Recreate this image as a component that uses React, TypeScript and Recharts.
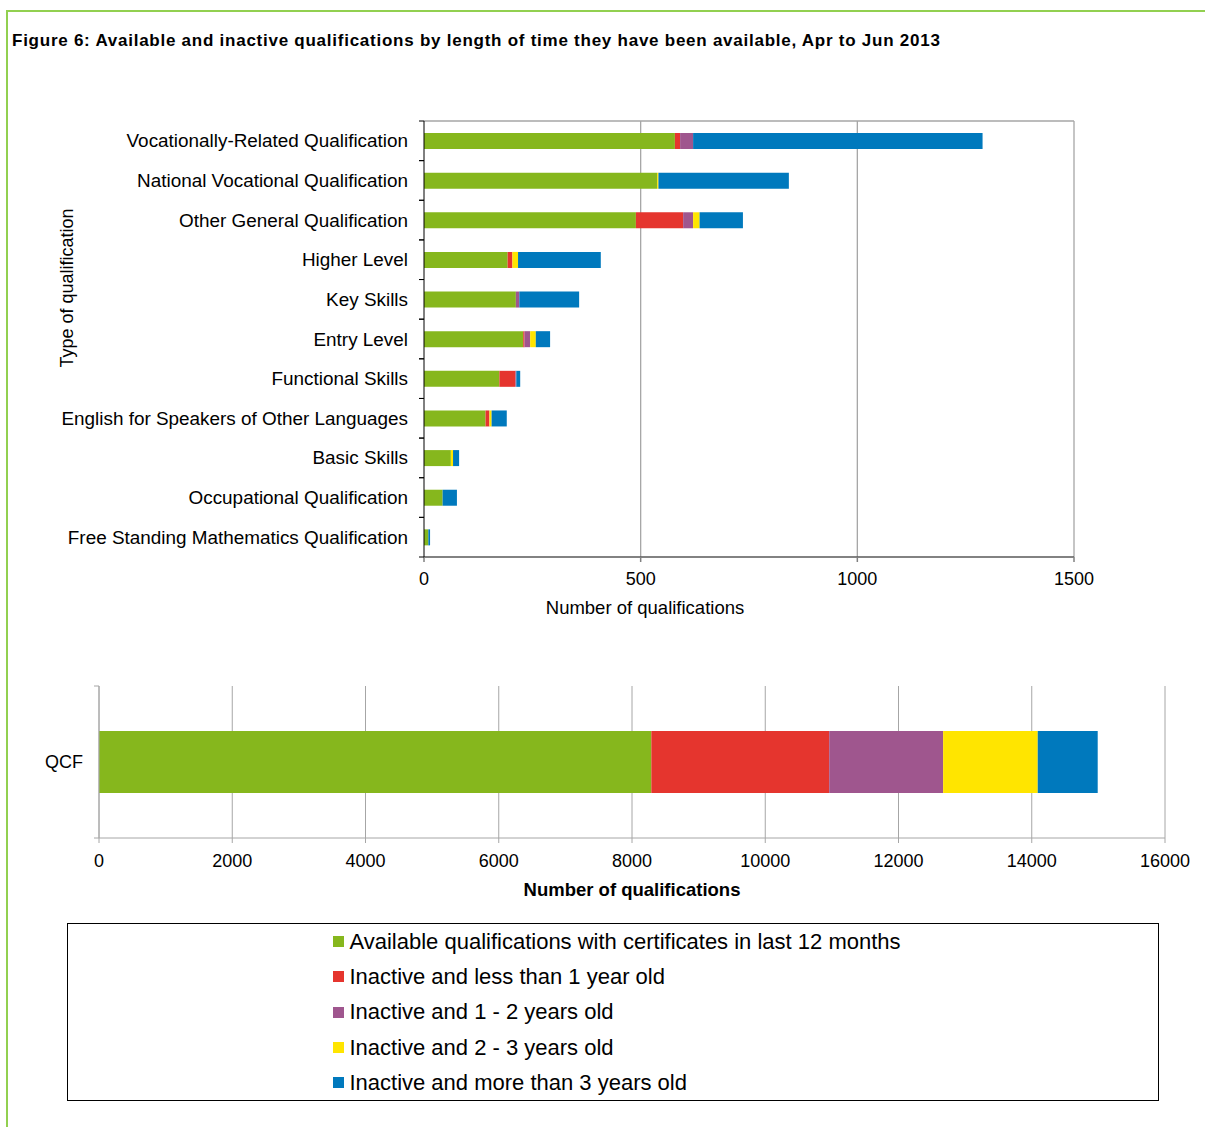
import React from "react";
import { Bar, BarChart, CartesianGrid, Label, Legend, XAxis, YAxis } from "recharts";

const FONT = '"Liberation Sans", Arial, sans-serif';

const green = "#86b71d";
const red = "#e5352e";
const purple = "#9f568e";
const yellow = "#ffe500";
const blue = "#0079bd";

const seriesNames = [
  "Available qualifications with certificates in last 12 months",
  "Inactive and less than 1 year old",
  "Inactive and 1 - 2 years old",
  "Inactive and 2 - 3 years old",
  "Inactive and more than 3 years old",
];
const seriesColors = [green, red, purple, yellow, blue];
const seriesKeys = ["available", "lessThan1", "oneToTwo", "twoToThree", "moreThan3"];

const categories = [
  "Vocationally-Related Qualification",
  "National Vocational Qualification",
  "Other General Qualification",
  "Higher Level",
  "Key Skills",
  "Entry Level",
  "Functional Skills",
  "English for Speakers of Other Languages",
  "Basic Skills",
  "Occupational Qualification",
  "Free Standing Mathematics Qualification",
];
const available = [579, 538, 489, 193, 212, 229, 174, 142, 62, 43, 10];
const lessThan1 = [12, 0, 109, 11, 0, 3, 37, 8, 0, 0, 0];
const oneToTwo = [30, 0, 23, 0, 8, 13, 2, 1, 0, 0, 0];
const twoToThree = [0, 3, 15, 13, 0, 13, 0, 5, 5, 0, 0];
const moreThan3 = [668, 301, 100, 191, 138, 33, 9, 35, 14, 33, 4];
const topTicks = [0, 500, 1000, 1500];

const qcfCategory = ["QCF"];
const qcfValues = [8290, 2670, 1710, 1420, 900];
const bottomTicks = [0, 2000, 4000, 6000, 8000, 10000, 12000, 14000, 16000];

const topData = categories.map((name, i) => ({
  name,
  available: available[i],
  lessThan1: lessThan1[i],
  oneToTwo: oneToTwo[i],
  twoToThree: twoToThree[i],
  moreThan3: moreThan3[i],
}));

const bottomData = qcfCategory.map((name) => {
  const row: Record<string, any> = { name };
  seriesKeys.forEach((k, i) => (row[k] = qcfValues[i]));
  return row;
});

// category tick: label plus tick marks on the band edges (Excel style)
function BandTick(props: any) {
  const { y, payload, axisX, color, fontSize } = props;
  const half = payload && payload.offset ? payload.offset : 0;
  return (
    <g>
      <line x1={axisX - 5} x2={axisX} y1={y - half} y2={y - half} stroke={color} />
      <line x1={axisX - 5} x2={axisX} y1={y + half} y2={y + half} stroke={color} />
      <text
        x={axisX - 16}
        y={y}
        textAnchor="end"
        dominantBaseline="central"
        fill="#000"
        fontSize={fontSize}
        fontFamily={FONT}
      >
        {payload.value}
      </text>
    </g>
  );
}

function LegendBox(props: any) {
  const payload = [...(props.payload || [])].sort(
    (a: any, b: any) => seriesNames.indexOf(a.value) - seriesNames.indexOf(b.value)
  );
  return (
    <div
      style={{
        boxSizing: "border-box",
        width: 1092,
        height: 178,
        border: "1px solid #000",
        display: "flex",
        justifyContent: "center",
        fontFamily: FONT,
        fontSize: 22,
        color: "#000",
      }}
    >
      <div style={{ paddingTop: 0, marginLeft: 8 }}>
        {payload.map((entry: any) => (
          <div key={entry.value} style={{ height: 35.3, display: "flex", alignItems: "center" }}>
            <span
              style={{ display: "inline-block", width: 11, height: 11, background: entry.color, marginRight: 5 }}
            />
            <span>{entry.value}</span>
          </div>
        ))}
      </div>
    </div>
  );
}

export default function App() {
  return (
    <div
      style={{
        position: "absolute",
        left: 0,
        top: 0,
        width: 1205,
        height: 1127,
        overflow: "hidden",
        background: "#fff",
        fontFamily: FONT,
      }}
    >
      <div
        style={{
          position: "absolute",
          left: 6,
          top: 10,
          width: 1240,
          height: 1160,
          border: "2px solid #92d050",
          boxSizing: "border-box",
        }}
      />
      <div
        style={{
          position: "absolute",
          left: 12,
          top: 31,
          fontSize: 17,
          letterSpacing: 0.75,
          fontWeight: "bold",
          color: "#000",
          whiteSpace: "nowrap",
        }}
      >
        Figure 6: Available and inactive qualifications by length of time they have been available, Apr to Jun 2013
      </div>

      <div style={{ position: "absolute", left: 0, top: 0 }}>
        <BarChart
          width={1205}
          height={630}
          data={topData}
          layout="vertical"
          margin={{ top: 121, right: 131, bottom: 0, left: 0 }}
          style={{ fontFamily: FONT }}
        >
          <CartesianGrid
            stroke="#a6a6a6"
            strokeWidth={1.3}
            horizontalCoordinatesGenerator={(p: any) => [p.offset.top]}
            verticalCoordinatesGenerator={(p: any) => [
              p.offset.left + p.offset.width / 3,
              p.offset.left + (2 * p.offset.width) / 3,
              p.offset.left + p.offset.width,
            ]}
          />
          <XAxis
            type="number"
            domain={[0, 1500]}
            ticks={topTicks}
            height={73}
            stroke="#595959"
            strokeWidth={1.5}
            tickLine={{ stroke: "#808080" }}
            tickSize={5}
            tickMargin={10}
            tick={{ fill: "#000", fontSize: 18, fontFamily: FONT }}
          >
            <Label
              value="Number  of qualifications"
              position="insideBottom"
              offset={16}
              dx={-104}
              style={{ fill: "#000", fontSize: 18.5, fontFamily: FONT, whiteSpace: "pre" }}
            />
          </XAxis>
          <YAxis
            type="category"
            dataKey="name"
            width={424}
            stroke="#000"
            tickLine={false}
            interval={0}
            tick={<BandTick axisX={424} color="#000" fontSize={18.9} />}
          >
            <Label
              content={() => (
                <text
                  x={67}
                  y={288}
                  transform="rotate(-90 67 288)"
                  textAnchor="middle"
                  dominantBaseline="central"
                  fill="#000"
                  fontSize={18}
                  fontFamily={FONT}
                >
                  Type of qualification
                </text>
              )}
            />
          </YAxis>
          {seriesKeys.map((k, i) => (
            <Bar
              key={k}
              dataKey={k}
              name={seriesNames[i]}
              stackId="a"
              fill={seriesColors[i]}
              barSize={16}
              isAnimationActive={false}
            />
          ))}
        </BarChart>
      </div>

      <div style={{ position: "absolute", left: 0, top: 640 }}>
        <BarChart
          width={1205}
          height={480}
          data={bottomData}
          layout="vertical"
          margin={{ top: 46, right: 40, bottom: 222, left: 0 }}
          style={{ fontFamily: FONT }}
        >
          <CartesianGrid stroke="#a6a6a6" horizontal={false} />
          <XAxis
            type="number"
            domain={[0, 16000]}
            ticks={bottomTicks}
            height={60}
            stroke="#a6a6a6"
            tickLine={{ stroke: "#a6a6a6" }}
            tickSize={5}
            tickMargin={11}
            tick={{ fill: "#000", fontSize: 18, fontFamily: FONT }}
          >
            <Label
              value="Number  of qualifications"
              position="insideBottom"
              offset={2}
              style={{ fill: "#000", fontSize: 18.5, fontWeight: "bold", fontFamily: FONT, whiteSpace: "pre" }}
            />
          </XAxis>
          <YAxis
            type="category"
            dataKey="name"
            width={99}
            stroke="#a6a6a6"
            tickLine={false}
            tick={<BandTick axisX={99} color="#a6a6a6" fontSize={18} />}
          />
          {seriesKeys.map((k, i) => (
            <Bar
              key={k}
              dataKey={k}
              name={seriesNames[i]}
              stackId="b"
              fill={seriesColors[i]}
              barSize={62}
              isAnimationActive={false}
            />
          ))}
          <Legend
            layout="horizontal"
            verticalAlign="middle"
            align="center"
            wrapperStyle={{ left: 67, top: 283, width: 1092, height: 178 }}
            content={<LegendBox />}
          />
        </BarChart>
      </div>
    </div>
  );
}
